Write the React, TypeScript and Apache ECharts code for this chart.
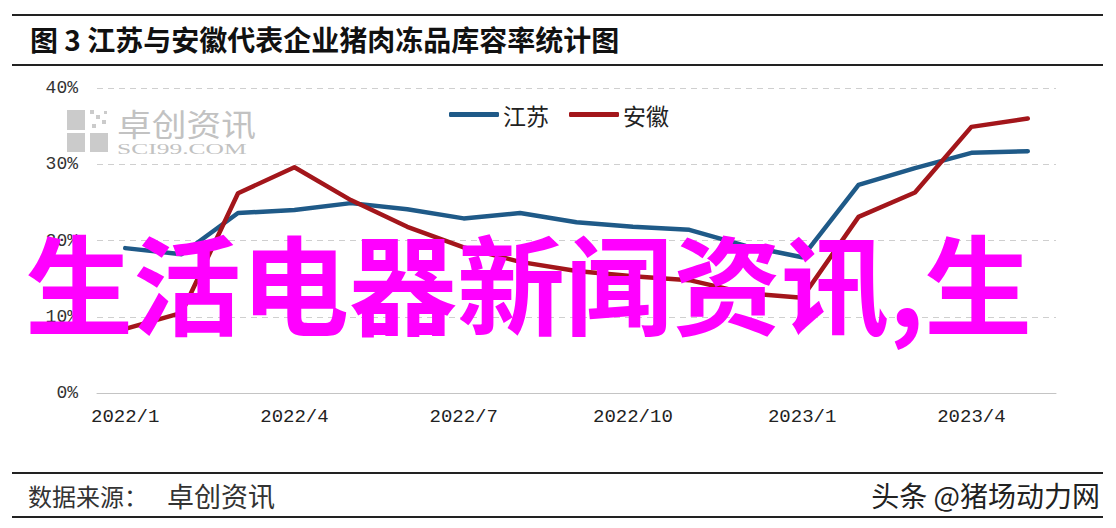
import React, { useEffect, useRef } from "react";
import * as echarts from "echarts";

const months: string[] = [
  "2022/1", "2022/2", "2022/3", "2022/4", "2022/5", "2022/6", "2022/7", "2022/8", "2022/9",
  "2022/10", "2022/11", "2022/12", "2023/1", "2023/2", "2023/3", "2023/4", "2023/5",
];
const jiangsu: number[] = [19.0, 18.2, 23.6, 24.0, 24.9, 24.1, 22.9, 23.6, 22.4, 21.8, 21.4, 19.3, 17.8, 27.3, 29.5, 31.5, 31.7];
const anhui: number[] = [8.4, 10.5, 26.2, 29.6, 25.3, 21.8, 19.1, 17.2, 16.0, 15.3, 14.8, 13.1, 12.5, 23.1, 26.3, 34.9, 36.0];
const seriesNames: string[] = ["江苏", "安徽"];
const yTicks: number[] = [0, 10, 20, 30, 40];

const titleText = "图 3 江苏与安徽代表企业猪肉冻品库容率统计图";
const sourceLabel = "数据来源：";
const sourceName = "卓创资讯";
const creditText = "头条 @猪场动力网";
const overlayText = "生活电器新闻资讯,生";

export default function App() {
  const ref = useRef<HTMLDivElement>(null);
  useEffect(() => {
    document.body.style.margin = "0";
    if (!ref.current) return;
    const chart = echarts.init(ref.current, null, { renderer: "svg" });
    const grey = "#c4c4c4";
    const wm = "#cbcbcb";
    chart.setOption({
      animation: false,
      backgroundColor: "#ffffff",
      grid: { left: 97, right: 60, top: 88, bottom: 135, containLabel: false },
      legend: {
        left: 444,
        top: 98,
        icon: "roundRect",
        itemWidth: 50,
        itemHeight: 5,
        itemGap: 20,
        textStyle: { fontSize: 23, color: "#222", fontFamily: "Noto Sans CJK SC", padding: [0, 0, 0, -1] },
        data: seriesNames,
      },
      xAxis: {
        type: "category",
        data: months,
        boundaryGap: true,
        axisLine: { lineStyle: { color: grey, width: 1 } },
        axisTick: { interval: 2, length: 6, lineStyle: { color: grey } },
        axisLabel: {
          interval: 2,
          margin: 14,
          fontSize: 19,
          color: "#222",
          fontFamily: "Liberation Mono",
        },
        splitLine: { show: false },
      },
      yAxis: {
        type: "value",
        min: yTicks[0],
        max: yTicks[yTicks.length - 1],
        interval: 10,
        axisLine: { show: false },
        axisTick: { show: false },
        axisLabel: {
          formatter: "{value}%",
          margin: 19,
          fontSize: 18,
          color: "#333",
          fontFamily: "Liberation Mono",
        },
        splitLine: { lineStyle: { color: "#cfcfcf", type: [6, 5], width: 1 } },
      },
      series: [
        {
          name: seriesNames[0],
          type: "line",
          data: jiangsu,
          symbol: "none",
          lineStyle: { color: "#1f5a88", width: 4.5, cap: "round", join: "round" },
          itemStyle: { color: "#1f5a88" },
        },
        {
          name: seriesNames[1],
          type: "line",
          data: anhui,
          symbol: "none",
          lineStyle: { color: "#a3161b", width: 4.5, cap: "round", join: "round" },
          itemStyle: { color: "#a3161b" },
        },
      ],
      graphic: [
        // title rules
        { type: "rect", shape: { x: 12, y: 14, width: 1091, height: 2 }, style: { fill: "#222" } },
        { type: "rect", shape: { x: 12, y: 64, width: 1091, height: 2 }, style: { fill: "#222" } },
        {
          type: "text",
          x: 30,
          y: 39,
          style: {
            text: titleText,
            fontSize: 28,
            fontWeight: "bold",
            fontFamily: "Noto Sans CJK SC",
            fill: "#111",
            textVerticalAlign: "middle",
          },
        },
        // watermark logo
        { type: "rect", shape: { x: 67, y: 110, width: 18, height: 20 }, style: { fill: wm } },
        { type: "rect", shape: { x: 67, y: 133, width: 18, height: 19 }, style: { fill: wm } },
        { type: "rect", shape: { x: 90, y: 133, width: 18, height: 19 }, style: { fill: wm } },
        { type: "rect", shape: { x: 90, y: 110, width: 4, height: 4 }, style: { fill: wm } },
        { type: "rect", shape: { x: 96, y: 115, width: 4, height: 4 }, style: { fill: wm } },
        { type: "rect", shape: { x: 102, y: 120, width: 4, height: 4 }, style: { fill: wm } },
        { type: "rect", shape: { x: 92, y: 124, width: 4, height: 4 }, style: { fill: wm } },
        { type: "rect", shape: { x: 104, y: 111, width: 3, height: 3 }, style: { fill: wm } },
        {
          type: "text",
          x: 117,
          y: 122,
          style: {
            text: "卓创资讯",
            fontSize: 31,
            fontFamily: "Noto Sans CJK SC",
            fill: "#c2c2c2",
            textVerticalAlign: "middle",
          },
          scaleX: 1.12,
        },
        {
          type: "text",
          x: 117,
          y: 149,
          style: {
            text: "SCI99.COM",
            fontSize: 15,
            fontFamily: "Liberation Serif",
            fill: "#c2c2c2",
            textVerticalAlign: "middle",
          },
          scaleX: 1.7,
        },
        // footer rules and text
        { type: "rect", shape: { x: 12, y: 472, width: 1091, height: 2 }, style: { fill: "#222" } },
        { type: "rect", shape: { x: 12, y: 516, width: 1091, height: 2 }, style: { fill: "#222" } },
        {
          type: "text",
          x: 28,
          y: 495,
          style: {
            text: sourceLabel,
            fontSize: 24,
            fontFamily: "Noto Sans CJK SC",
            fill: "#333",
            textVerticalAlign: "middle",
          },
        },
        {
          type: "text",
          x: 167,
          y: 495,
          style: {
            text: sourceName,
            fontSize: 27,
            fontFamily: "Noto Sans CJK SC",
            fill: "#333",
            textVerticalAlign: "middle",
          },
        },
        {
          type: "text",
          x: 1100,
          y: 495,
          style: {
            text: creditText,
            fontSize: 28,
            fontFamily: "Noto Sans CJK SC",
            fill: "#222",
            textAlign: "right",
            textVerticalAlign: "middle",
          },
        },
        // magenta overlay
        {
          type: "text",
          x: 25,
          y: 280,
          z: 100,
          style: {
            text: overlayText,
            fontSize: 108,
            fontWeight: "bold",
            fontFamily: "Noto Sans CJK SC",
            fill: "#ff00ff",
            textVerticalAlign: "middle",
          },
        },
      ],
    });
    return () => chart.dispose();
  }, []);
  return <div ref={ref} style={{ position: "absolute", left: 0, top: 0, width: 1116, height: 528 }} />;
}
